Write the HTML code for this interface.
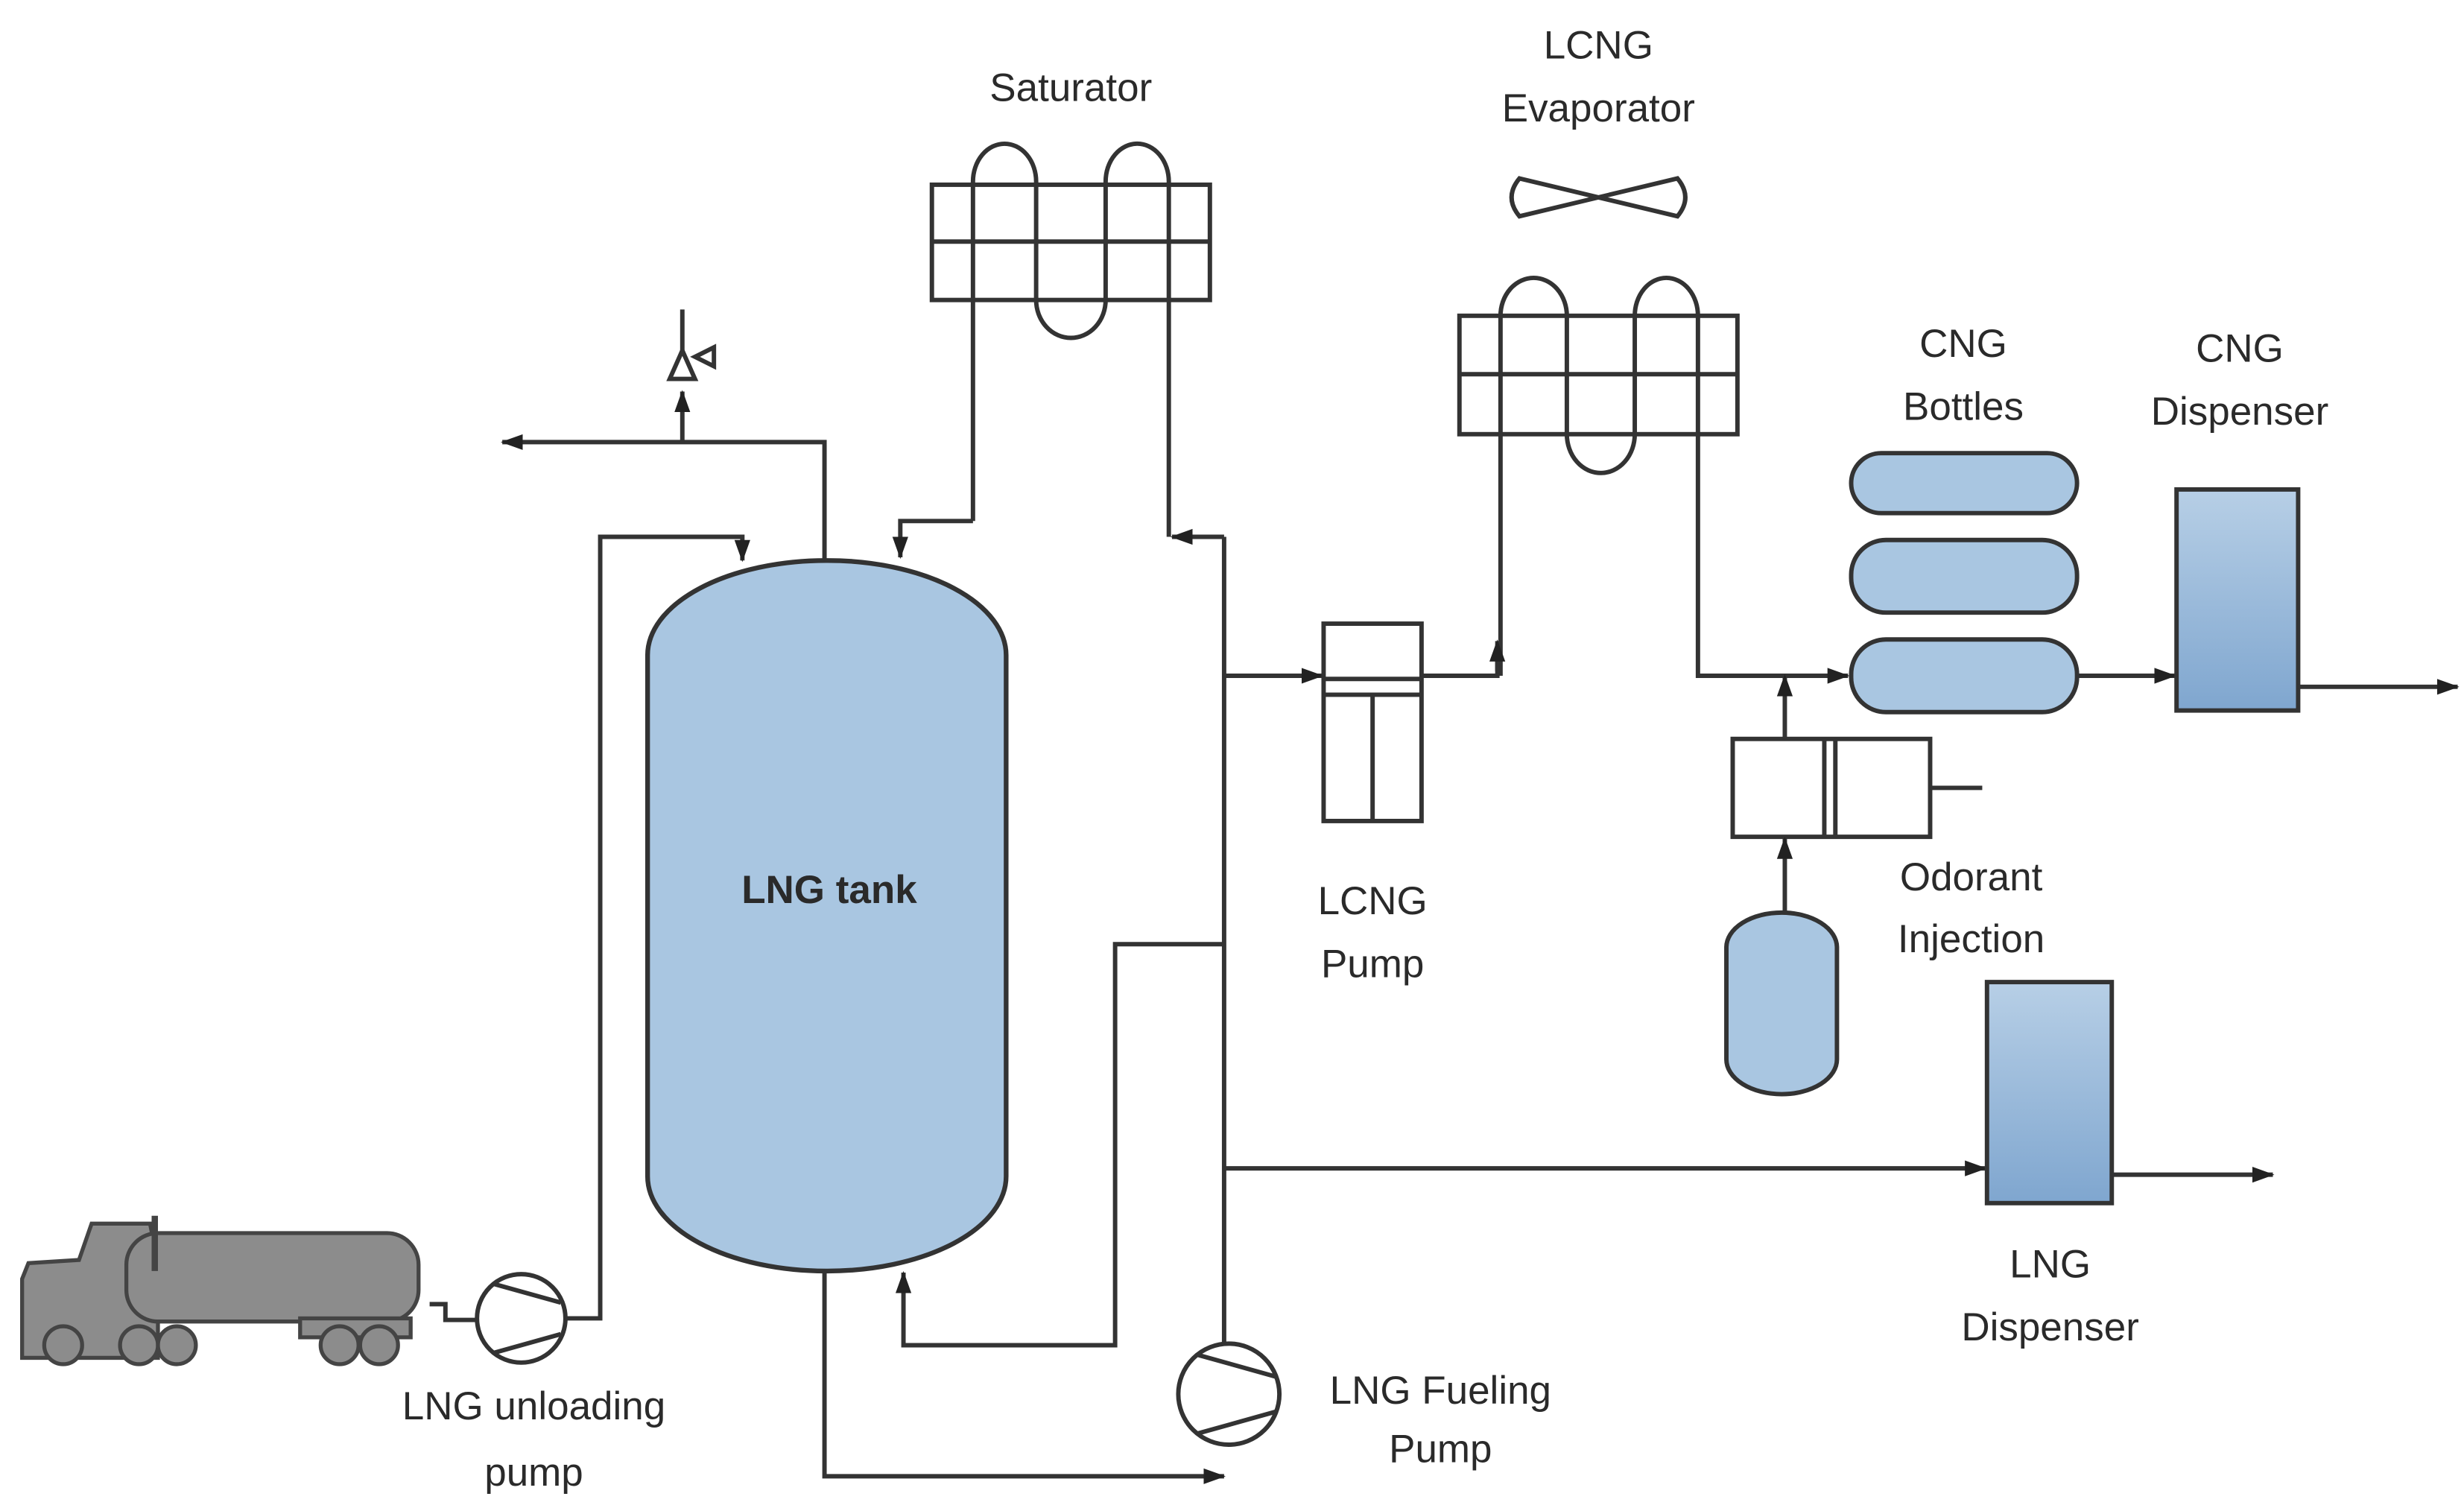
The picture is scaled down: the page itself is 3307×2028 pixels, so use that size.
<!DOCTYPE html>
<html><head><meta charset="utf-8"><style>
html,body{margin:0;padding:0;background:#fff;}
svg{display:block;}
text{font-family:"Liberation Sans",sans-serif;font-size:25px;fill:#2a2a2a;text-anchor:middle;}
</style></head><body>
<svg width="3307" height="2028" viewBox="0 0 1560 957" preserveAspectRatio="none" xmlns="http://www.w3.org/2000/svg">
<defs>
<marker id="a" markerWidth="14" markerHeight="12" refX="13" refY="6" orient="auto" markerUnits="userSpaceOnUse"><path d="M0,1 L14,6 L0,11 Z" fill="#222"/></marker>
<linearGradient id="g" x1="0" y1="0" x2="0" y2="1"><stop offset="0" stop-color="#b7cfe6"/><stop offset="1" stop-color="#7fa6cf"/></linearGradient>
</defs>
<g fill="none" stroke="#333" stroke-width="2.8">
<rect x="590" y="117" width="176" height="73"/>
<line x1="590" y1="153" x2="766" y2="153"/>
<path d="M616,330 V115 A20,24 0 0 1 656,115 V190 A22,24 0 0 0 700,190 V115 A20,24 0 0 1 740,115 V340"/>
<path d="M616,330 H570 V353" marker-end="url(#a)"/>
<path d="M775,340 H742" marker-end="url(#a)"/>
<rect x="924" y="200" width="176" height="75"/>
<line x1="924" y1="237" x2="1100" y2="237"/>
<path d="M950,428 V200 A21,24 0 0 1 992,200 V275 A21,24 0 0 0 1035,275 V200 A20,24 0 0 1 1075,200 V428 H1168" />
<path d="M1075,428 H1170" marker-end="url(#a)"/>
<path d="M962,113 L1062,137 Q1072,125 1062,113 L962,137 Q952,125 962,113 Z"/>
<rect x="410" y="355" width="227" height="450" rx="113" ry="60" fill="#a9c6e1" stroke="#333" stroke-width="3"/>
<path d="M522,355 V280 H318" marker-end="url(#a)"/>
<path d="M432,280 V248" marker-end="url(#a)"/>
<path d="M424,240 L440,240 L432,222 Z M440,226 L452,220 L452,232 Z"/>
<line x1="432" y1="222" x2="432" y2="196"/>
<circle cx="330" cy="835" r="28" fill="#fff"/>
<path d="M312,813 L355,825 M312,857 L355,845"/>
<path d="M358,835 H380 V340 H470 V355" marker-end="url(#a)"/>
<path d="M272,826 H282 V836 H302"/>
<path d="M522,805 V935 H775" marker-end="url(#a)"/>
<circle cx="778" cy="883" r="32" fill="#fff"/>
<path d="M758,858 L808,872 M758,908 L808,894"/>
<path d="M775,851 V340"/>
<path d="M775,598 H706 V852 H572 V806" marker-end="url(#a)"/>
<path d="M775,740 H1257" marker-end="url(#a)"/>
<path d="M775,428 H837" marker-end="url(#a)"/>
<rect x="838" y="395" width="62" height="125" fill="#fff"/>
<line x1="838" y1="430" x2="900" y2="430"/>
<line x1="838" y1="440" x2="900" y2="440"/>
<line x1="869" y1="440" x2="869" y2="520"/>
<path d="M900,428 H948 V410"/>
<path d="M948,425 V406" marker-end="url(#a)"/>
<rect x="1097" y="468" width="125" height="62"/>
<line x1="1155" y1="468" x2="1155" y2="530"/>
<line x1="1162" y1="468" x2="1162" y2="530"/>
<line x1="1222" y1="499" x2="1255" y2="499"/>
<path d="M1130,468 V428" marker-end="url(#a)"/>
<path d="M1130,578 V531" marker-end="url(#a)"/>
<rect x="1093" y="578" width="70" height="115" rx="35" ry="22" fill="#a9c6e1"/>
<rect x="1172" y="287" width="143" height="38" rx="19" fill="#a9c6e1"/>
<rect x="1172" y="342" width="143" height="46" rx="22" fill="#a9c6e1"/>
<rect x="1172" y="405" width="143" height="46" rx="22" fill="#a9c6e1"/>
<path d="M1315,428 H1377" marker-end="url(#a)"/>
<rect x="1378" y="310" width="77" height="140" fill="url(#g)"/>
<path d="M1455,435 H1556" marker-end="url(#a)"/>
<rect x="1258" y="622" width="79" height="140" fill="url(#g)"/>
<path d="M1337,744 H1439" marker-end="url(#a)"/>
</g>
<g fill="#8c8c8c" stroke="#444" stroke-width="2.5">
<path d="M14,810 L18,800 L50,798 L58,775 L95,775 L100,800 L100,860 L14,860 Z"/>
<rect x="80" y="781" width="185" height="56" rx="20"/>
<rect x="190" y="835" width="70" height="12"/>
<line x1="98" y1="770" x2="98" y2="805" stroke-width="4"/>
<circle cx="40" cy="852" r="12"/><circle cx="88" cy="852" r="12"/><circle cx="112" cy="852" r="12"/><circle cx="215" cy="852" r="12"/><circle cx="240" cy="852" r="12"/>
</g>
<text x="678" y="64">Saturator</text>
<text x="1012" y="37">LCNG</text>
<text x="1012" y="77">Evaporator</text>
<text x="1243" y="226">CNG</text>
<text x="1243" y="266">Bottles</text>
<text x="1418" y="229">CNG</text>
<text x="1418" y="269">Dispenser</text>
<text x="525" y="572" style="font-weight:bold">LNG tank</text>
<text x="869" y="579">LCNG</text>
<text x="869" y="619">Pump</text>
<text x="1248" y="564">Odorant</text>
<text x="1248" y="603">Injection</text>
<text x="1298" y="809">LNG</text>
<text x="1298" y="849">Dispenser</text>
<text x="912" y="889">LNG Fueling</text>
<text x="912" y="926">Pump</text>
<text x="338" y="899">LNG unloading</text>
<text x="338" y="941">pump</text>
</svg>
</body></html>
